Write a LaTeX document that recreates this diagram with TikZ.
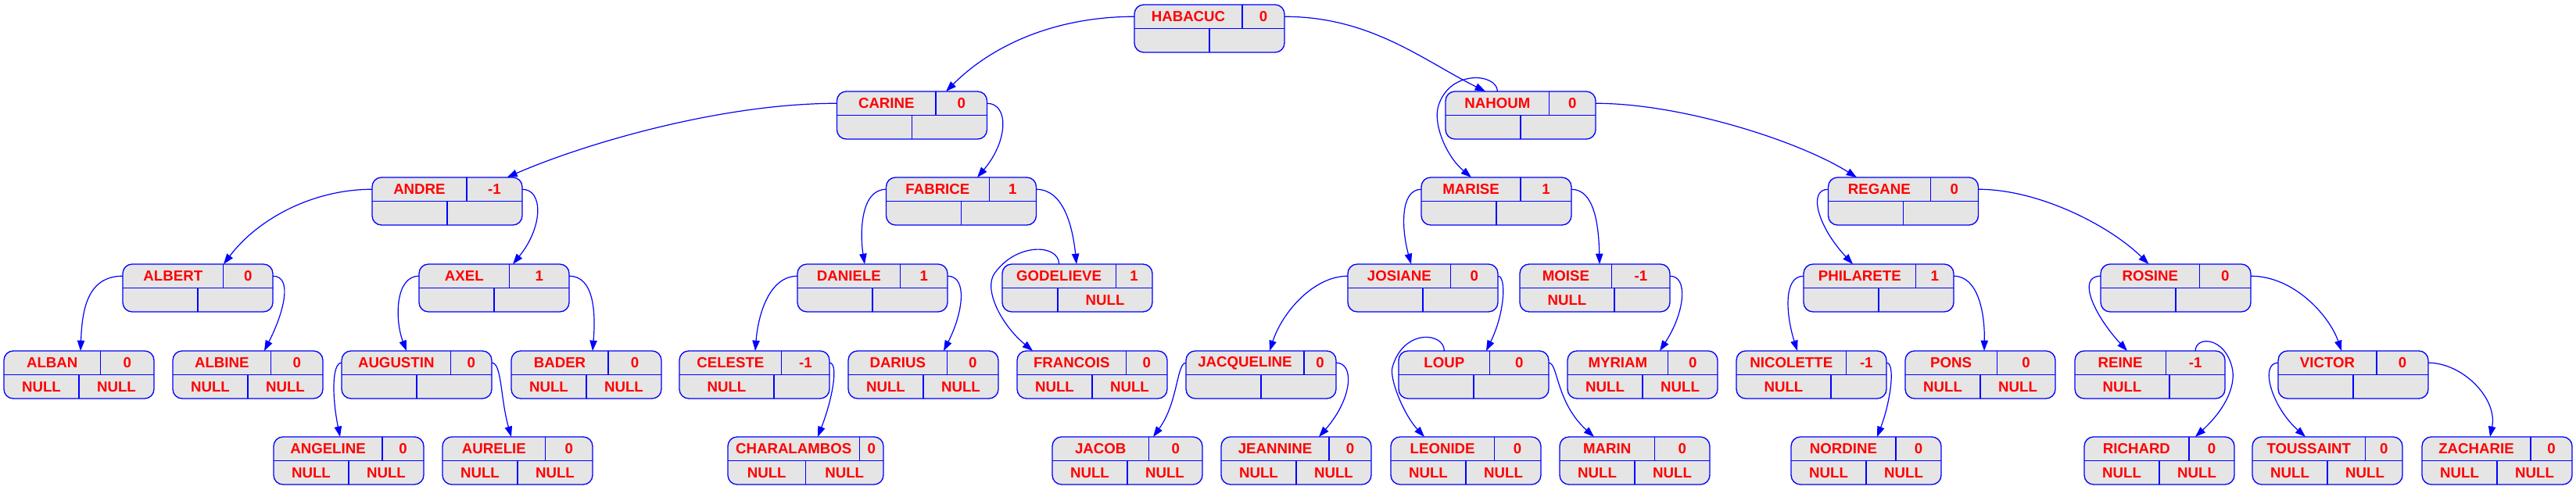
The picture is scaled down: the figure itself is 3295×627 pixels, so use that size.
\documentclass[tikz,border=0pt]{standalone}
\usepackage{fontspec}
\setmainfont{Liberation Sans}
\usetikzlibrary{arrows.meta,calc}
\definecolor{recfill}{HTML}{E5E5E5}
\definecolor{recblue}{HTML}{0000FF}
\definecolor{recred}{HTML}{FF0000}
\newdimen\recwa
\newdimen\recwb
\newdimen\recwc
\newcommand\nodefont{\fontsize{14pt}{16pt}\selectfont\bfseries}
\newcommand\recmeasure[1]{\setbox0=\hbox{\nodefont #1}\expandafter\xdef\csname recw@#1\endcsname{\the\wd0}}
\tikzset{
  recbox/.style={draw=recblue, fill=recfill, line width=1pt, rounded corners=9pt,
    inner sep=0pt, outer sep=0pt, minimum height=45.75pt},
  recline/.style={draw=recblue, line width=1pt},
  rectext/.style={text=recred, font=\nodefont, inner sep=0pt, anchor=center},
  edge/.style={draw=recblue, line width=0.9pt, -{Triangle[length=10pt,width=7pt]}}
}
% id, left, top, width, name, value, bottom-left, bottom-right
\newcommand\recnode[8]{%
  \recwa=\csname recw@#5\endcsname\relax
  \recwb=\csname recw@#6\endcsname\relax
  \recwc=\dimexpr(\recwa-\recwb)*2/3\relax
  \pgfmathsetmacro\rtop{#2+#4/2+\the\recwc}%
  \recwa=\csname recw@#7\endcsname\relax
  \recwb=\csname recw@#8\endcsname\relax
  \recwc=\dimexpr(\recwa-\recwb)*2/3\relax
  \pgfmathsetmacro\rbot{#2+#4/2+\the\recwc}%
  \pgfmathsetmacro\rright{#2+#4}%
  \pgfmathsetmacro\rcx{#2+#4/2}%
  \node[recbox, minimum width=#4*0.75pt] (#1) at (\rcx,#3+30.5) {};
  \draw[recline] (#2,#3+30.5) -- (\rright,#3+30.5);
  \draw[recline] (\rtop,#3) -- (\rtop,#3+30.5);
  \draw[recline] (\rbot,#3+30.5) -- (\rbot,#3+61);
  \node[rectext] at ({(#2+\rtop)/2},#3+15.5) {#5};
  \node[rectext] at ({(\rtop+\rright)/2},#3+15.5) {#6};
  \node[rectext] at ({(#2+\rbot)/2},#3+46) {#7};
  \node[rectext] at ({(\rbot+\rright)/2},#3+46) {#8};
  \coordinate (#1-tl) at (#2,#3+15.25);
  \coordinate (#1-tr) at (\rright,#3+15.25);
  \coordinate (#1-tn) at ({(#2+\rtop)/2},#3);
  \coordinate (#1-tv) at ({(\rtop+\rright)/2},#3);
}
\begin{document}
\recmeasure{}\recmeasure{0}\recmeasure{1}\recmeasure{-1}\recmeasure{NULL}%
\recmeasure{HABACUC}\recmeasure{CARINE}\recmeasure{NAHOUM}\recmeasure{ANDRE}%
\recmeasure{FABRICE}\recmeasure{MARISE}\recmeasure{REGANE}\recmeasure{ALBERT}%
\recmeasure{AXEL}\recmeasure{DANIELE}\recmeasure{GODELIEVE}\recmeasure{JOSIANE}%
\recmeasure{MOISE}\recmeasure{PHILARETE}\recmeasure{ROSINE}\recmeasure{ALBAN}%
\recmeasure{ALBINE}\recmeasure{AUGUSTIN}\recmeasure{BADER}\recmeasure{CELESTE}%
\recmeasure{DARIUS}\recmeasure{FRANCOIS}\recmeasure{JACQUELINE}\recmeasure{LOUP}%
\recmeasure{MYRIAM}\recmeasure{NICOLETTE}\recmeasure{PONS}\recmeasure{REINE}%
\recmeasure{VICTOR}\recmeasure{ANGELINE}\recmeasure{AURELIE}\recmeasure{CHARALAMBOS}%
\recmeasure{JACOB}\recmeasure{JEANNINE}\recmeasure{LEONIDE}\recmeasure{MARIN}%
\recmeasure{NORDINE}\recmeasure{RICHARD}\recmeasure{TOUSSAINT}\recmeasure{ZACHARIE}%
\begin{tikzpicture}[x=0.75pt,y=-0.75pt]
\fill[white] (0,0) rectangle (3295,627);
\useasboundingbox (0,0) rectangle (3295,627);
% row 0
\recnode{HAB}{1451}{6}{192}{HABACUC}{0}{}{}
% row 1
\recnode{CAR}{1070.5}{117}{192}{CARINE}{0}{}{}
\recnode{NAH}{1849}{117}{192}{NAHOUM}{0}{}{}
% row 2
\recnode{AND}{476}{227}{192}{ANDRE}{-1}{}{}
\recnode{FAB}{1133.5}{227}{192}{FABRICE}{1}{}{}
\recnode{MAR}{1818}{227}{192}{MARISE}{1}{}{}
\recnode{REG}{2338.5}{227}{192}{REGANE}{0}{}{}
% row 3
\recnode{ALBT}{157}{338}{192}{ALBERT}{0}{}{}
\recnode{AXE}{536}{338}{192}{AXEL}{1}{}{}
\recnode{DAN}{1020}{338}{192}{DANIELE}{1}{}{}
\recnode{GOD}{1282}{338}{192}{GODELIEVE}{1}{}{NULL}
\recnode{JOS}{1724}{338}{192}{JOSIANE}{0}{}{}
\recnode{MOI}{1944}{338}{192}{MOISE}{-1}{NULL}{}
\recnode{PHI}{2307}{338}{192}{PHILARETE}{1}{}{}
\recnode{ROS}{2687}{338}{192}{ROSINE}{0}{}{}
% row 4
\recnode{ALBA}{5}{449}{192}{ALBAN}{0}{NULL}{NULL}
\recnode{ALBI}{221}{449}{192}{ALBINE}{0}{NULL}{NULL}
\recnode{AUG}{437}{449}{192}{AUGUSTIN}{0}{}{}
\recnode{BAD}{654}{449}{192}{BADER}{0}{NULL}{NULL}
\recnode{CEL}{869}{449}{192}{CELESTE}{-1}{NULL}{}
\recnode{DAR}{1085}{449}{192}{DARIUS}{0}{NULL}{NULL}
\recnode{FRA}{1301}{449}{192}{FRANCOIS}{0}{NULL}{NULL}
\recnode{JACQ}{1517}{449}{192}{JACQUELINE}{0}{}{}
\recnode{LOUP}{1789}{449}{192}{LOUP}{0}{}{}
\recnode{MYR}{2005}{449}{192}{MYRIAM}{0}{NULL}{NULL}
\recnode{NIC}{2221}{449}{192}{NICOLETTE}{-1}{NULL}{}
\recnode{PONS}{2437}{449}{192}{PONS}{0}{NULL}{NULL}
\recnode{REI}{2654}{449}{192}{REINE}{-1}{NULL}{}
\recnode{VIC}{2914}{449}{192}{VICTOR}{0}{}{}
% row 5
\recnode{ANG}{350}{559}{192}{ANGELINE}{0}{NULL}{NULL}
\recnode{AUR}{566}{559}{192}{AURELIE}{0}{NULL}{NULL}
\recnode{CHA}{931}{559}{199}{CHARALAMBOS}{0}{NULL}{NULL}
\recnode{JACO}{1346}{559}{192}{JACOB}{0}{NULL}{NULL}
\recnode{JEA}{1562}{559}{192}{JEANNINE}{0}{NULL}{NULL}
\recnode{LEO}{1779}{559}{192}{LEONIDE}{0}{NULL}{NULL}
\recnode{MARI}{1995}{559}{192}{MARIN}{0}{NULL}{NULL}
\recnode{NOR}{2291}{559}{192}{NORDINE}{0}{NULL}{NULL}
\recnode{RIC}{2666}{559}{192}{RICHARD}{0}{NULL}{NULL}
\recnode{TOU}{2881}{559}{192}{TOUSSAINT}{0}{NULL}{NULL}
\recnode{ZAC}{3098}{559}{192}{ZACHARIE}{0}{NULL}{NULL}
% edges
\draw[edge] (HAB-tl) .. controls +(-100,0) and +(60,-60) .. ($(CAR.north west)+(139.5,0)$);
\draw[edge] (HAB-tr) .. controls +(110,0) and +(-80,-40) .. ($(NAH.north west)+(51,0)$);
\draw[edge] (CAR-tl) .. controls +(-150,0) and +(96,-42) .. ($(AND.north west)+(172.5,0)$);
\draw[edge] (CAR-tr) .. controls +(28,0) and +(40,-47) .. ($(FAB.north west)+(116.5,0)$);
\draw[edge] (NAH-tn) .. controls +(0,-23) and (1855,88) .. (1840,135) .. controls (1832.5,158.5) and (1850,200) .. ($(MAR.north west)+(64,0)$);
\draw[edge] (NAH-tr) .. controls +(109,0) and +(-75,-47) .. ($(REG.north west)+(36.5,0)$);
\draw[edge] (AND-tl) .. controls +(-76,0) and +(44,-58) .. ($(ALBT.north west)+(129,0)$);
\draw[edge] (AND-tr) .. controls +(27,0) and +(39,-48) .. ($(AXE.north west)+(120,0)$);
\draw[edge] (FAB-tl) .. controls +(-33.5,0) and +(-6,-38) .. ($(DAN.north west)+(86,0)$);
\draw[edge] (FAB-tr) .. controls +(35,0) and +(-5,-48) .. ($(GOD.north west)+(95,0)$);
\draw[edge] (MAR-tl) .. controls +(-28,0) and +(-12,-43) .. ($(JOS.north west)+(81,0)$);
\draw[edge] (MAR-tr) .. controls +(30,0) and +(-1,-48) .. ($(MOI.north west)+(102,0)$);
\draw[edge] (REG-tl) .. controls +(-26.5,0) and +(-45,-48) .. ($(PHI.north west)+(63,0)$);
\draw[edge] (REG-tr) .. controls +(79,0) and +(-48.5,-48) .. ($(ROS.north west)+(61.5,0)$);
\draw[edge] (ALBT-tl) .. controls +(-47,0) and +(2,-49) .. ($(ALBA.north west)+(98,0)$);
\draw[edge] (ALBT-tr) .. controls +(26,0) and +(25,-49) .. ($(ALBI.north west)+(117,0)$);
\draw[edge] (AXE-tl) .. controls +(-31,0) and +(-15,-39) .. ($(AUG.north west)+(83,0)$);
\draw[edge] (AXE-tr) .. controls +(32,0) and +(4,-49) .. ($(BAD.north west)+(104,0)$);
\draw[edge] (DAN-tl) .. controls +(-35,0) and +(4,-49) .. ($(CEL.north west)+(97,0)$);
\draw[edge] (DAN-tr) .. controls +(26,0) and +(25,-49) .. ($(DAR.north west)+(122,0)$);
\draw[edge] (GOD-tn) .. controls +(0,-26) and (1300,310) .. (1272,350) .. controls (1258,370) and (1280,415) .. ($(FRA.north west)+(20,0)$);
\draw[edge] (JOS-tl) .. controls +(-44,0) and +(16,-49) .. ($(JACQ.north west)+(107,0)$);
\draw[edge] (JOS-tr) .. controls +(11,0) and +(24,-49) .. ($(LOUP.north west)+(112,0)$);
\draw[edge] (MOI-tr) .. controls +(24,0) and +(32,-49) .. ($(MYR.north west)+(118,0)$);
\draw[edge] (PHI-tl) .. controls +(-27,0) and +(-14,-44) .. ($(NIC.north west)+(78,0)$);
\draw[edge] (PHI-tr) .. controls +(31,0) and +(1,-49) .. ($(PONS.north west)+(101,0)$);
\draw[edge] (ROS-tl) .. controls +(-32,0) and +(-41,-44) .. ($(REI.north west)+(67,0)$);
\draw[edge] (ROS-tr) .. controls +(56,0) and +(-15,-44) .. ($(VIC.north west)+(81,0)$);
\draw[edge] (AUG-tl) .. controls +(-13,0) and +(-10,-49) .. ($(ANG.north west)+(85,0)$);
\draw[edge] (AUG-tr) .. controls +(13,0) and +(-14,-49) .. ($(AUR.north west)+(88,0)$);
\draw[edge] (CEL-tr) .. controls +(12,0) and +(19,-49) .. ($(CHA.north west)+(115,0)$);
\draw[edge] (JACQ-tl) .. controls +(-12,0) and +(32,-44) .. ($(JACO.north west)+(129,0)$);
\draw[edge] (JACQ-tr) .. controls +(24,0) and +(43,-49) .. ($(JEA.north west)+(125,0)$);
\draw[edge] (LOUP-tn) .. controls +(0,-24) and (1795,420) .. (1781,470) .. controls (1777,484) and (1795,530) .. ($(LEO.north west)+(43,0)$);
\draw[edge] (LOUP-tr) .. controls +(12,0) and +(-49,-44) .. ($(MARI.north west)+(44,0)$);
\draw[edge] (NIC-tr) .. controls +(12,0) and +(17,-44) .. ($(NOR.north west)+(110,0)$);
\draw[edge] (REI-tv) .. controls +(0,-19) and (2845,430) .. (2855,470) .. controls (2860,490) and (2850,520) .. ($(RIC.north west)+(142,0)$);
\draw[edge] (VIC-tl) .. controls +(-24,0) and +(-44,-39) .. ($(TOU.north west)+(68,0)$);
\draw[edge] (VIC-tr) .. controls +(44,0) and +(10,-49) .. ($(ZAC.north west)+(87,0)$);
\end{tikzpicture}
\end{document}
